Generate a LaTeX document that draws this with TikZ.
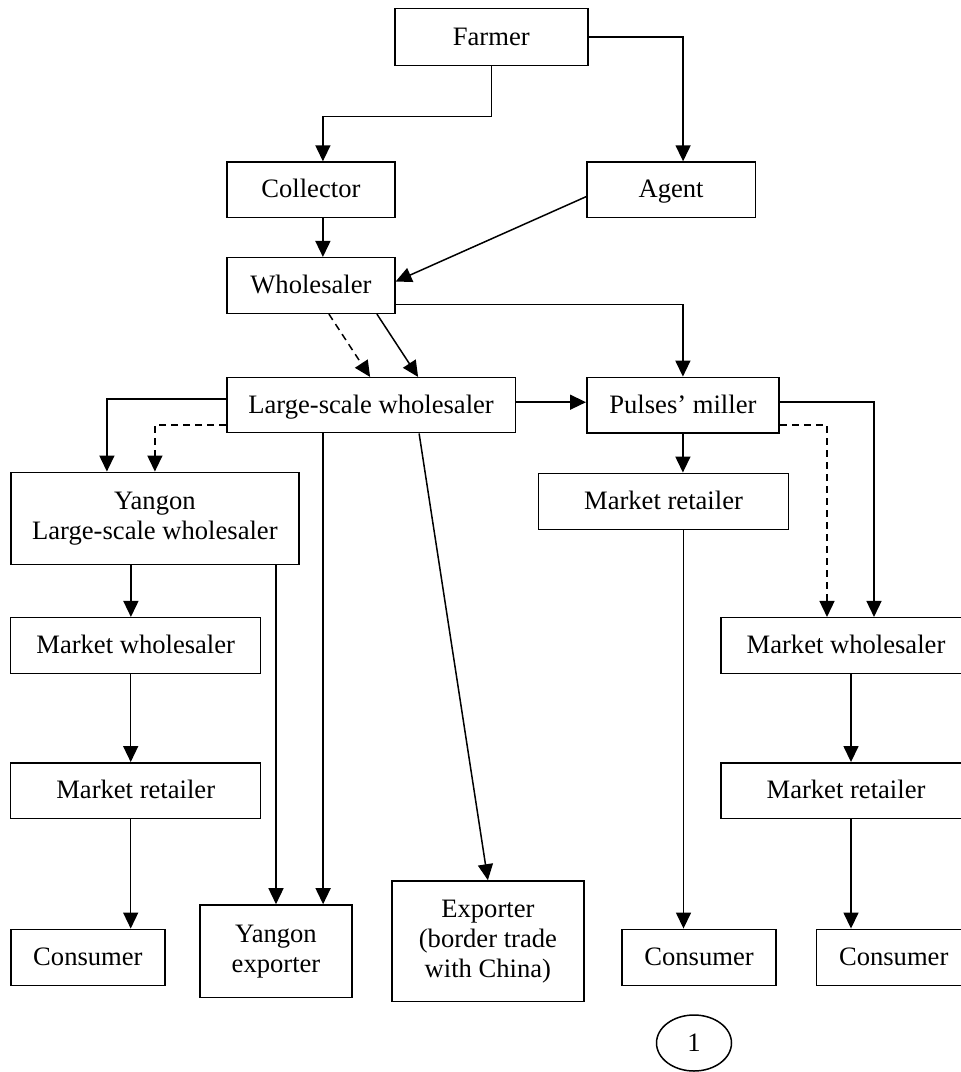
\documentclass[tikz,border=0pt]{standalone}
\usepackage{fontspec}
\setmainfont{Liberation Serif}
\usetikzlibrary{arrows.meta, calc, positioning, shapes.geometric}

\newcommand{\chainfont}{\fontsize{26.6pt}{30pt}\selectfont}

\tikzset{
	stage/.style 2 args={draw, line width=1.5pt, inner sep=0pt, align=center, font=\chainfont, minimum width=#1, minimum height=#2},
	oneline/.style={text height=18.6pt, text depth=3pt},
	flow/.style={line width=1.5pt, -{Triangle[length=16pt,width=15pt]}},
	sideflow/.style={flow, dash pattern=on 7pt off 5pt},
}

\begin{document}
\begin{tikzpicture}[x=1pt, y=-1pt]
				\useasboundingbox (0,0) rectangle (961,1072);
				\clip (0,0) rectangle (961,1072);
				\node (farmer_box) [stage={193pt}{57pt}, oneline] at (491.3,37.2) {Farmer};
				\node (collector_box) [stage={168pt}{55.3pt}, oneline] at (310.9,189.7) {Collector};
				\node (agent_box) [stage={168.6pt}{55.3pt}, oneline] at (671.1,189.7) {Agent};
				\node (wholesaler_box) [stage={168pt}{55.6pt}, oneline] at (310.9,285.5) {Wholesaler};
				\node (lsw_box) [stage={288.6pt}{55pt}, oneline] at (371.1,405.2) {Large-scale wholesaler};
				\node (pulses_box) [stage={192.3pt}{55.7pt}, oneline] at (682.9,405.2) {Pulses’ miller};
				\node (yangon_lsw_box) [stage={288.3pt}{92pt}] at (154.9,518.3) {Yangon\\Large-scale wholesaler};
				\node (mr_mid_box) [stage={250.4pt}{56pt}, oneline] at (663.5,501.3) {Market retailer};
				\node (mw_left_box) [stage={250pt}{55.6pt}, oneline] at (135.7,645.5) {Market wholesaler};
				\node (mr_left_box) [stage={250pt}{55.6pt}, oneline, below=88pt of mw_left_box] {Market retailer};
				\node (consumer_left_box) [stage={154.3pt}{56.4pt}, oneline] at (87.9,957.5) {Consumer};
				\node (yangon_exp_box) [stage={152pt}{92.7pt}] at (276,951.3) {Yangon\\exporter};
				\node (border_exp_box) [stage={192.3pt}{120.7pt}] at (487.9,941.3) {Exporter\\(border trade\\with China)};
				\node (mw_right_box) [stage={250pt}{55.6pt}, oneline] at (846,645.5) {Market wholesaler};
				\node (mr_right_box) [stage={250pt}{55.6pt}, oneline, below=88pt of mw_right_box] {Market retailer};
				\node (consumer_mid_box) [stage={154pt}{56pt}, oneline] at (699,957.3) {Consumer};
				\node (consumer_right_box) [stage={154pt}{56pt}, oneline] at (893.7,957.3) {Consumer};
				\node (page_mark) [ellipse, draw, line width=1.5pt, inner sep=0pt, minimum width=75pt, minimum height=56pt, font=\chainfont] at (694,1043) {1};

				\draw[flow] (farmer_box.south) -- ++(0,50) -| ([xshift=12pt]collector_box.north);
				\draw[flow] (farmer_box.east) -| ([xshift=12pt]agent_box.north);
				\draw[flow] ([xshift=12pt]collector_box.south) -- ([xshift=12pt]wholesaler_box.north);
				\draw[flow] ([yshift=-7pt]agent_box.west) -- ([yshift=4pt]wholesaler_box.east);
				\draw[flow] ([yshift=-19pt]wholesaler_box.east) -| (pulses_box.north);
				\draw[sideflow] ([xshift=18pt]wholesaler_box.south) -- ([xshift=-1pt]lsw_box.north);
				\draw[flow] ([xshift=66pt]wholesaler_box.south) -- ([xshift=47pt]lsw_box.north);
				\draw[flow] ([yshift=3pt]lsw_box.east) -- ([yshift=3pt]pulses_box.west);
				\draw[flow] ([yshift=6pt]lsw_box.west) -| ([xshift=-48pt]yangon_lsw_box.north);
				\draw[sideflow] ([yshift=-20pt]lsw_box.west) -| (yangon_lsw_box.north);
				\draw[flow] ([xshift=-48pt]lsw_box.south) -- ([xshift=-48pt]lsw_box.south |- yangon_exp_box.north);
				\draw[flow] ([xshift=48pt]lsw_box.south) -- (border_exp_box.north);
				\draw[flow] (yangon_exp_box.north |- yangon_lsw_box.south) -- (yangon_exp_box.north);
				\draw[flow] ([xshift=-24pt]yangon_lsw_box.south) -- ([xshift=-24pt]yangon_lsw_box.south |- mw_left_box.north);
				\draw[flow] ([xshift=-5pt]mw_left_box.south) -- ([xshift=-5pt]mr_left_box.north);
				\draw[flow] ([xshift=-5pt]mr_left_box.south) -- ([xshift=-5pt]mr_left_box.south |- consumer_left_box.north);
				\draw[flow] (pulses_box.south) -- (pulses_box.south |- mr_mid_box.north);
				\draw[flow] ([xshift=20pt]mr_mid_box.south) -- ([xshift=20pt]mr_mid_box.south |- consumer_mid_box.north);
				\draw[flow] ([yshift=3pt]pulses_box.east) -| ([xshift=28pt]mw_right_box.north);
				\draw[sideflow] ([yshift=-20pt]pulses_box.east) -| ([xshift=-19pt]mw_right_box.north);
				\draw[flow] ([xshift=5pt]mw_right_box.south) -- ([xshift=5pt]mr_right_box.north);
				\draw[flow] ([xshift=5pt]mr_right_box.south) -- ([xshift=5pt]mr_right_box.south |- consumer_right_box.north);
			\end{tikzpicture}
\end{document}
